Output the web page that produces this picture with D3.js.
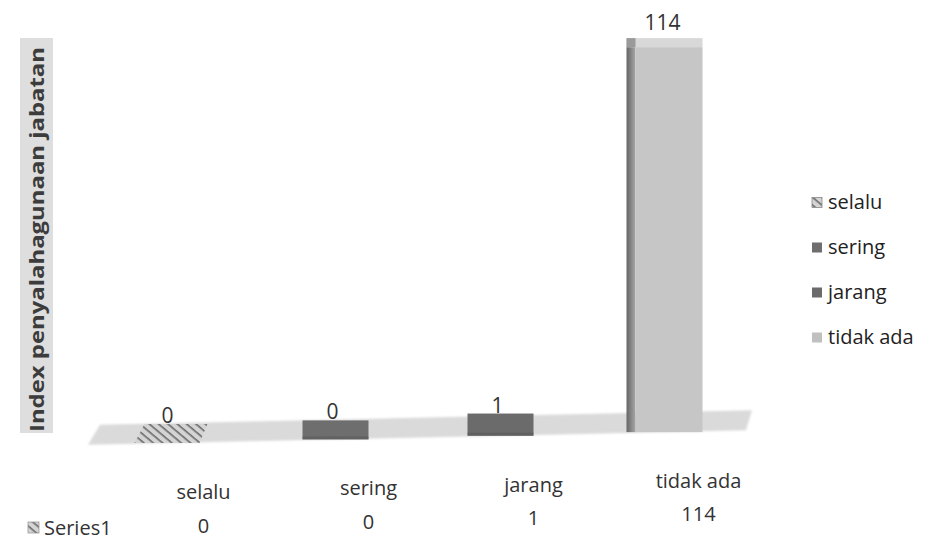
<!DOCTYPE html>
<html><head><meta charset="utf-8">
<script src="https://cdn.jsdelivr.net/npm/d3@7"></script>
<style>body{margin:0;background:#fff}svg{display:block}text{font-family:"Open Sans",sans-serif}</style>
</head><body><svg id="c" width="927" height="541"></svg>
<script>
const categories = ["selalu", "sering", "jarang", "tidak ada"];
const seriesName = "Series1";
const values = [0, 0, 1, 114];
const yTitle = "Index penyalahagunaan jabatan";

const svg = d3.select("#c");
const defs = svg.append("defs");
const pat = defs.append("pattern").attr("id","hatch").attr("patternUnits","userSpaceOnUse")
  .attr("width",6).attr("height",6).attr("patternTransform","rotate(40)");
pat.append("rect").attr("width",6).attr("height",6).attr("fill","#d4d4d4");
pat.append("rect").attr("width",6).attr("height",1.6).attr("fill","#6a6a6a");
const sideG = defs.append("linearGradient").attr("id","side").attr("x1",0).attr("x2",1).attr("y1",0).attr("y2",0);
sideG.append("stop").attr("offset","0%").attr("stop-color","#666");
sideG.append("stop").attr("offset","100%").attr("stop-color","#a6a6a6");
defs.append("filter").attr("id","soft").append("feGaussianBlur").attr("stdDeviation",1.2);

const colors = {"selalu":"url(#hatch)","sering":"#6e6e6e","jarang":"#6b6b6b","tidak ada":"#c6c6c6"};

const x = d3.scaleBand().domain(categories).range([88, 748]).paddingInner(0.6).paddingOuter(0.3);
const y = d3.scaleLinear().domain([0, 114]).range([0, 366]);
const slope = -0.022, base0 = 443, xRef = 171;
const baseY = px => base0 + (px - xRef) * slope;
const slab = 19;

// y-axis title
svg.append("rect").attr("x",20).attr("y",38).attr("width",33).attr("height",395).attr("fill","#dedede");
svg.append("text").attr("transform","translate(44,432) rotate(-90)")
  .attr("font-weight","bold").attr("font-size",20).attr("fill","#3c3c3c")
  .attr("textLength",385).attr("lengthAdjust","spacingAndGlyphs").text(yTitle);

// floor
const fx0 = 88, fx1 = 748;
svg.append("polygon").attr("filter","url(#soft)").attr("fill","#dadada")
  .attr("points",[[fx0+12, baseY(fx0)-20],[fx1+4, baseY(fx1)-20],[fx1-2, baseY(fx1)],[fx0, baseY(fx0)]].map(p=>p.join(",")).join(" "));

// bars
const capH = 9;
categories.forEach((c,i) => {
  const v = values[i];
  const cx = x(c) + x.bandwidth()/2;
  const x0 = x(c), x1 = x(c) + x.bandwidth();
  const yb = baseY(cx);
  const top = yb - slab - y(v);
  let labelY;
  if (c === "selalu") {
    svg.append("polygon").attr("fill", colors[c])
      .attr("points", [[x0-3,yb],[x1-4,yb],[x1+4,top],[x0+7,top]].map(p=>p.join(",")).join(" "));
    labelY = top - 1;
  } else if (y(v) > capH) {
    svg.append("rect").attr("x", x0-6).attr("y", top).attr("width", 9).attr("height", yb-top).attr("fill","url(#side)");
    svg.append("rect").attr("x", x0+3).attr("y", top).attr("width", x1-x0+1).attr("height", yb-top).attr("fill", colors[c]);
    svg.append("rect").attr("x", x0-6).attr("y", top-capH).attr("width", x1-x0+10).attr("height", capH).attr("fill","#d8d8d8");
    svg.append("rect").attr("x", x0-6).attr("y", top-capH).attr("width", 9).attr("height", capH).attr("fill","#9a9a9a");
    labelY = top - capH - 8;
  } else {
    svg.append("rect").attr("x", x0).attr("y", top).attr("width", x1-x0).attr("height", yb-top).attr("fill", colors[c]);
    svg.append("rect").attr("x", x0).attr("y", yb-3).attr("width", x1-x0).attr("height", 3).attr("fill","#555").attr("opacity",0.5);
    labelY = top - 1;
  }
  svg.append("text").attr("x", cx - 3).attr("y", labelY).attr("text-anchor","middle")
    .attr("font-size",21).attr("fill","#333").text(v);
});

// data table (category labels + values)
const tblOff = 33;
categories.forEach((c,i) => {
  const tx = x(c) + x.bandwidth()/2 + tblOff;
  svg.append("text").attr("x", tx).attr("y", 499 + (tx-204)*slope).attr("text-anchor","middle")
    .attr("font-size",20).attr("fill","#333").text(c);
  svg.append("text").attr("x", tx).attr("y", 533 - (tx-204)*0.025).attr("text-anchor","middle")
    .attr("font-size",20).attr("fill","#333").text(values[i]);
});
svg.append("rect").attr("x",28).attr("y",522).attr("width",11).attr("height",11).attr("fill","url(#hatch)").attr("stroke","#999").attr("stroke-width",0.8);
svg.append("text").attr("x",44).attr("y",535).attr("font-size",20).attr("fill","#333").text(seriesName);

// legend
const leg = d3.scaleBand().domain(categories).range([180, 360]);
categories.forEach(c => {
  const cy = leg(c) + leg.bandwidth()/2;
  svg.append("rect").attr("x",812).attr("y",cy-5).attr("width",10).attr("height",10)
    .attr("fill", c==="tidak ada" ? "#c0c0c0" : colors[c]).attr("stroke", c==="selalu"?"#888":"none").attr("stroke-width",0.8);
  svg.append("text").attr("x",828).attr("y",cy+6).attr("font-size",20).attr("fill","#222").text(c);
});
</script></body></html>
